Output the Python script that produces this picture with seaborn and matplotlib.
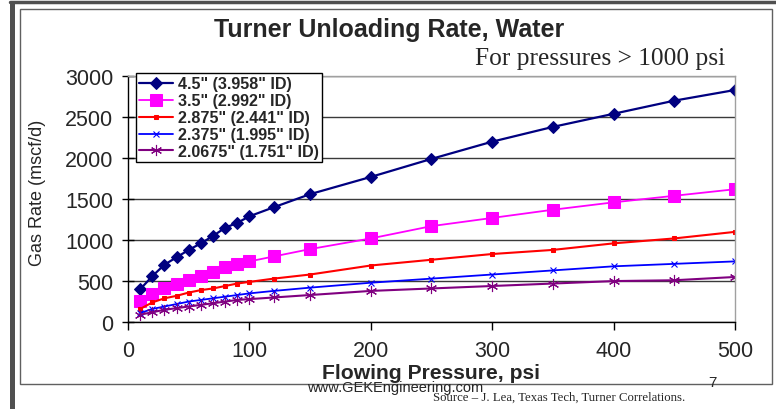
import matplotlib
matplotlib.use("Agg")
import matplotlib.pyplot as plt
import seaborn as sns
import pandas as pd
from matplotlib.patches import Rectangle
from matplotlib.lines import Line2D

# flowing pressure, psi
pressure = [10, 20, 30, 40, 50, 60, 70, 80, 90, 100, 120, 150, 200, 250, 300, 350, 400, 450, 500]

# gas rate, mscf/d
rate_45 = [400, 560, 700, 790, 880, 960, 1050, 1150, 1210, 1290, 1400, 1560, 1770, 1990, 2200, 2380, 2540, 2700, 2830]
rate_35 = [260, 340, 410, 460, 510, 560, 610, 670, 710, 740, 800, 890, 1020, 1170, 1270, 1370, 1460, 1540, 1620]
rate_2875 = [160, 240, 290, 320, 360, 390, 410, 440, 470, 490, 530, 580, 690, 760, 830, 880, 960, 1020, 1100]
rate_2375 = [110, 160, 190, 220, 250, 270, 290, 310, 330, 350, 380, 420, 480, 530, 580, 630, 680, 710, 740]
rate_20675 = [90, 120, 150, 170, 190, 210, 230, 250, 270, 280, 300, 330, 380, 410, 440, 470, 500, 510, 550]

labels = ['4.5" (3.958" ID)', '3.5" (2.992" ID)', '2.875" (2.441" ID)',
          '2.375" (1.995" ID)', '2.0675" (1.751" ID)']

sns.set_style("white")
plt.rcParams['font.family'] = ['Liberation Sans', 'DejaVu Sans']

fig = plt.figure(figsize=(7.76, 4.10), dpi=100)
ax = fig.add_axes([0.165, 0.212, 0.782, 0.600])

styles = [
    dict(color='#000080', marker='D', markersize=6, linewidth=1.6),
    dict(color='#FF00FF', marker='s', markersize=8, linewidth=1.3),
    dict(color='#FF0000', marker='s', markersize=2.5, linewidth=1.5),
    dict(color='#0000FF', marker='x', markersize=4, markeredgewidth=0.8, linewidth=1.3),
    dict(color='#800080', marker=(6, 2, 0), markersize=8, markeredgewidth=0.8, linewidth=1.5),
]
series = [rate_45, rate_35, rate_2875, rate_2375, rate_20675]

for vals, lab, st in zip(series, labels, styles):
    df = pd.DataFrame({'p': pressure, 'q': vals})
    sns.lineplot(data=df, x='p', y='q', ax=ax, label=lab, markeredgecolor=st['color'], **st)

ax.set_xlim(0, 500)
ax.set_ylim(0, 3000)
ax.set_xticks(range(0, 501, 100))
ax.set_yticks(range(0, 3001, 500))
ax.yaxis.grid(True, color='#3a3a3a', linewidth=1)
ax.set_axisbelow(True)

for s in ['top', 'right']:
    ax.spines[s].set_color('#a0a0a0')
    ax.spines[s].set_linewidth(1)
for s in ['left', 'bottom']:
    ax.spines[s].set_color('black')
    ax.spines[s].set_linewidth(1)

ax.tick_params(axis='y', direction='inout', length=9, width=1, color='black',
               labelsize=15.5, pad=6, left=True)
ax.tick_params(axis='x', direction='out', length=6, width=1, color='black',
               labelsize=15.5, pad=7, bottom=True)

ax.set_xlabel('Flowing Pressure, psi', fontsize=15.2, fontweight='bold')
ax.xaxis.set_label_coords(0.5, -0.165)
ax.set_ylabel('Gas Rate (mscf/d)', fontsize=13)
ax.yaxis.set_label_coords(-0.136, 0.53)

leg = ax.legend(loc='upper left', bbox_to_anchor=(0.013, 1.012),
                prop={'weight': 'bold', 'size': 11.6}, frameon=True, fancybox=False,
                framealpha=1, edgecolor='black', borderpad=0.2, labelspacing=0.12,
                handlelength=2.1, handletextpad=0.3, borderaxespad=0)
leg.get_frame().set_linewidth(1)

fig.text(0.502, 0.927, 'Turner Unloading Rate, Water', ha='center', va='center',
         fontsize=18, fontweight='bold')
fig.text(0.935, 0.857, 'For pressures > 1000 psi', ha='right', va='center',
         fontsize=18.3, family='Liberation Serif')
fig.text(0.396, 0.053, 'www.GEKEngineering.com', ha='left', va='center', fontsize=10.5)
fig.text(0.918, 0.066, '7', ha='center', va='center', fontsize=11)
fig.text(0.558, 0.029, 'Source \u2013 J. Lea, Texas Tech, Turner Correlations.',
         ha='left', va='center', fontsize=9.2, family='Liberation Serif')

# slide frame
fig.add_artist(Rectangle((0.0129, 0.0), 0.0065, 0.995, transform=fig.transFigure,
                         facecolor='#505050', edgecolor='none'))
fig.add_artist(Line2D([0.0129, 1.0], [0.993, 0.993], transform=fig.transFigure,
                      color='#505050', linewidth=2.5))
fig.add_artist(Rectangle((0.0258, 0.061), 0.969, 0.915, transform=fig.transFigure,
                         facecolor='none', edgecolor='#606060', linewidth=1))

fig.savefig('out.png', dpi=100)
